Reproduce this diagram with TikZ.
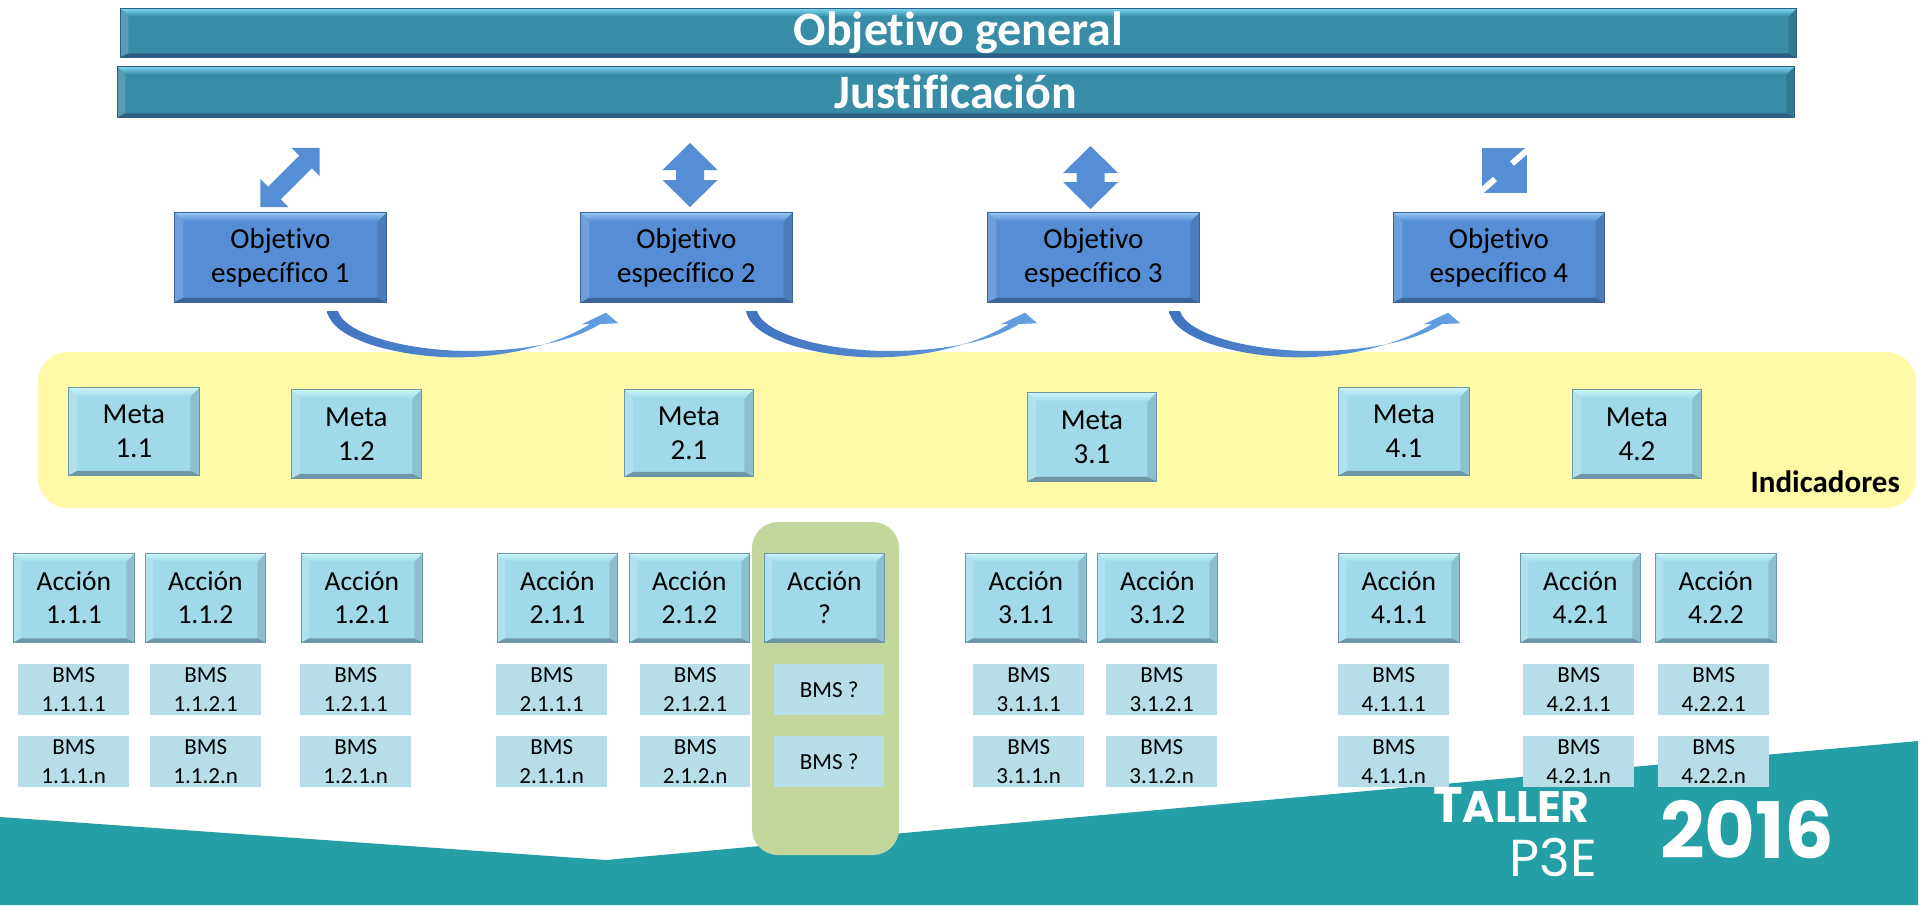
\documentclass[tikz,border=0pt]{standalone}
\usepackage{fontspec}
\setmainfont{Carlito}[Ligatures=NoCommon]
\newfontfamily\popfont{Poppins}
\usetikzlibrary{calc}

\definecolor{barmain}{RGB}{56,140,166}
\definecolor{barlight}{RGB}{125,215,242}
\definecolor{bardark}{RGB}{45,95,130}
\definecolor{objmain}{RGB}{85,142,213}
\definecolor{objlight}{RGB}{150,200,245}
\definecolor{objdark}{RGB}{60,100,155}
\definecolor{metamain}{RGB}{160,218,234}
\definecolor{metalight}{RGB}{205,245,252}
\definecolor{metadark}{RGB}{110,150,165}
\definecolor{bmsfill}{RGB}{183,222,232}
\definecolor{greenhl}{RGB}{195,214,155}
\definecolor{yellowbg}{RGB}{255,250,168}
\definecolor{tealbg}{RGB}{37,159,166}
\definecolor{arrowblue}{RGB}{85,142,213}
\definecolor{curvedark}{RGB}{65,115,190}
\definecolor{curvelight}{RGB}{100,160,228}

\tikzset{
  bevel/.style n args={4}{fill=#1, draw=#3, line width=0.8pt,
    path picture={
      \fill[#1!85!white]
        (path picture bounding box.north west)
        -- ([shift={(#4,-#4)}]path picture bounding box.north west)
        -- ([shift={(#4,0.5*#4)}]path picture bounding box.south west)
        -- (path picture bounding box.south west) -- cycle;
      \fill[#1!88!black]
        (path picture bounding box.north east)
        -- ([shift={(-#4,-#4)}]path picture bounding box.north east)
        -- ([shift={(-#4,0.5*#4)}]path picture bounding box.south east)
        -- (path picture bounding box.south east) -- cycle;
      \shade[top color=#2, bottom color=#1]
        (path picture bounding box.north west)
        -- (path picture bounding box.north east)
        -- ([shift={(-#4,-#4)}]path picture bounding box.north east)
        -- ([shift={(#4,-#4)}]path picture bounding box.north west) -- cycle;
      \fill[#3]
        (path picture bounding box.south west)
        -- ([shift={(#4,0.5*#4)}]path picture bounding box.south west)
        -- ([shift={(-#4,0.5*#4)}]path picture bounding box.south east)
        -- (path picture bounding box.south east) -- cycle;
    }},
  topbar/.style={bevel={barmain}{barlight}{bardark}{8pt}, anchor=north west,
    inner sep=0pt, text=white, font=\fontsize{48}{52}\selectfont\bfseries},
  objbox/.style={bevel={objmain}{objlight}{objdark}{9pt}, anchor=north west,
    inner sep=0pt, align=center, minimum height=90, font=\fontsize{29}{34}\selectfont},
  metabox/.style={bevel={metamain}{metalight}{metadark}{9pt}, anchor=north west,
    inner sep=0pt, align=center, font=\fontsize{29}{34}\selectfont},
  accbox/.style={bevel={metamain}{metalight}{metadark}{8pt}, anchor=north west,
    inner sep=0pt, align=center, minimum height=89, font=\fontsize{27.5}{33}\selectfont},
  bmsbox/.style={fill=bmsfill, anchor=north west, inner sep=0pt, align=center,
    minimum height=51, font=\fontsize{23}{29}\selectfont},
  blockarrow/.style={fill=arrowblue},
}

\newcommand\curvedarrowshape{%
  \shade[left color=curvedark, right color=curvelight]
    (153,9) .. controls (159,43) and (246,58) .. (296,55)
    .. controls (346,53) and (391,38) .. (416,22)
    -- (407.7,22.3) -- (432,10.7) -- (444.3,21.3) -- (426,22)
    .. controls (396,41) and (346,49) .. (296,49)
    .. controls (236,49) and (171,33) .. (164,9) -- cycle;}

\begin{document}
\begin{tikzpicture}[x=1pt,y=-1pt]
\useasboundingbox (0,0) rectangle (1929,905);
\fill[white] (0,0) rectangle (1929,905);

% bottom banner
\fill[tealbg] (0,817) -- (606,860) -- (1918,741) -- (1918,905) -- (0,905) -- cycle;

% indicator band
\fill[yellowbg, rounded corners=30] (38,352) rectangle (1916,508);

% green highlight
\fill[greenhl, rounded corners=26] (752,522) rectangle (899,855);

% top bars
\node[topbar, minimum width=1676, minimum height=49] (gen) at (120,8) {Objetivo general};
\node[topbar, minimum width=1677, minimum height=51] (just) at (117,66) {Justificación};

% objective boxes
\node[objbox, minimum width=212] (o1) at (174,212) {Objetivo\\específico 1};
\node[objbox, minimum width=212] (o2) at (580,212) {Objetivo\\específico 2};
\node[objbox, minimum width=212] (o3) at (987,212) {Objetivo\\específico 3};
\node[objbox, minimum width=211] (o4) at (1393,212) {Objetivo\\específico 4};

% block double arrows
\begin{scope}[shift={(290,177.5)}, rotate=45]
  \fill[blockarrow] (42,0) -- (22,20) -- (22,9) -- (-22,9) -- (-22,20) -- (-42,0)
    -- (-22,-20) -- (-22,-9) -- (22,-9) -- (22,-20) -- cycle;
\end{scope}
\begin{scope}[shift={(690,175)}]
  \fill[blockarrow] (0,-32) -- (27.5,-5) -- (14,-5) -- (14,5) -- (27.5,5) -- (0,32)
    -- (-27.5,5) -- (-14,5) -- (-14,-5) -- (-27.5,-5) -- cycle;
\end{scope}
\begin{scope}[shift={(1090.5,177.5)}]
  \fill[blockarrow] (0,-31.5) -- (27.5,-4.5) -- (14,-4.5) -- (14,4.5) -- (27.5,4.5) -- (0,31.5)
    -- (-27.5,4.5) -- (-14,4.5) -- (-14,-4.5) -- (-27.5,-4.5) -- cycle;
\end{scope}
\fill[blockarrow] (1482,148) rectangle (1527,193);
\draw[white, line width=6] (1512,163.5) -- (1531,147);
\draw[white, line width=6] (1478,194) -- (1495,179);

% curved arrows between objectives
\begin{scope}[shift={(174,302)}]
  \curvedarrowshape
\end{scope}
\begin{scope}[shift={(593,302)}]
  \curvedarrowshape
\end{scope}
\begin{scope}[shift={(1016,302)}]
  \curvedarrowshape
\end{scope}

% metas
\node[metabox, minimum width=131, minimum height=88] (m11) at (68,387) {Meta\\1.1};
\node[metabox, minimum width=130, minimum height=89] (m12) at (291,389) {Meta\\1.2};
\node[metabox, minimum width=129, minimum height=87] (m21) at (624,389) {Meta\\2.1};
\node[metabox, minimum width=129, minimum height=89] (m31) at (1027,392) {Meta\\3.1};
\node[metabox, minimum width=131, minimum height=88] (m41) at (1338,387) {Meta\\4.1};
\node[metabox, minimum width=129, minimum height=89] (m42) at (1572,389) {Meta\\4.2};

\node[anchor=base east, inner sep=0pt, font=\fontsize{31}{36}\selectfont\bfseries] (ind) at (1900,492) {Indicadores};

% actions
\foreach \x/\w/\t/\nm in {13/121/1.1.1/a111, 145/120/1.1.2/a112, 301/121/1.2.1/a121,
  497/120/2.1.1/a211, 629/120/2.1.2/a212, 764/120/?/aq, 965/121/3.1.1/a311,
  1097/120/3.1.2/a312, 1338/121/4.1.1/a411, 1520/120/4.2.1/a421, 1655/121/4.2.2/a422}
  {\node[accbox, minimum width=\w] (\nm) at (\x,553) {Acción\\\t};}

% BMS
\foreach \x/\w/\t/\nm in {18/111/1.1.1/b111, 150/111/1.1.2/b112, 300/111/1.2.1/b121,
  496/111/2.1.1/b211, 640/110/2.1.2/b212, 973/111/3.1.1/b311,
  1106/111/3.1.2/b312, 1338/111/4.1.1/b411, 1523/111/4.2.1/b421, 1658/111/4.2.2/b422}
  {\node[bmsbox, minimum width=\w] (\nm-1) at (\x,664) {BMS\\\t.1};
   \node[bmsbox, minimum width=\w] (\nm-n) at (\x,736) {BMS\\\t.n};}
\node[bmsbox, minimum width=110] (bq-1) at (774,664) {BMS ?};
\node[bmsbox, minimum width=110] (bq-n) at (774,736) {BMS ?};

% logo text
\node[anchor=base west, text=white, inner sep=0pt, font=\popfont\bfseries] (taller) at (1433,822)
  {\fontsize{50}{50}\selectfont T\fontsize{44}{44}\selectfont ALLER};
\node[anchor=base east, text=white, inner sep=0pt, font=\popfont] (p3e) at (1597,876)
  {\fontsize{52}{52}\selectfont P3E};
\node[anchor=base west, text=white, inner sep=0pt, font=\popfont\bfseries] (year) at (1660,858)
  {\fontsize{78}{78}\selectfont 2016};
\end{tikzpicture}
\end{document}
